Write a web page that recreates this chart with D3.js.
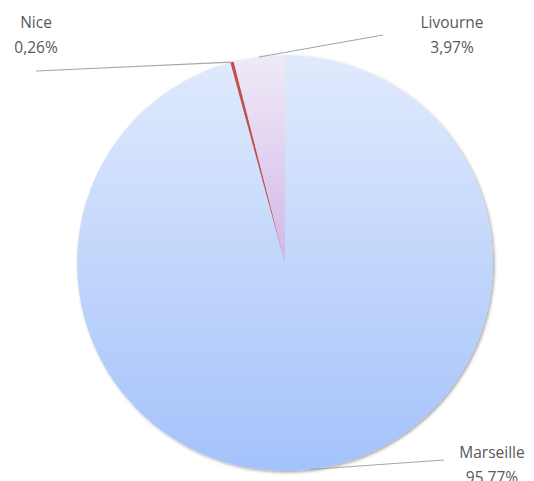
<!DOCTYPE html>
<html>
<head>
<meta charset="utf-8">
<script src="https://cdn.jsdelivr.net/npm/d3@7"></script>
<style>
  body { margin: 0; background: #fff; }
  text { font-family: "Open Sans", "Liberation Sans", sans-serif; font-size: 15.5px; fill: #595959; }
</style>
</head>
<body>
<svg id="chart" width="534" height="481"></svg>
<script>
// data
const cities = ["Marseille", "Nice", "Livourne"];
const shares = [95.77, 0.26, 3.97];
const labels = ["95,77%", "0,26%", "3,97%"];

const width = 534, height = 481;
const cx = 285, cy = 263, radius = 208;

const svg = d3.select("#chart");
const defs = svg.append("defs");

// gradient per slice, light on top darker below
const grads = [
  ["#e0eafc", "#a4c2fb"],
  ["#c0504d", "#c0504d"],
  ["#f0eaf8", "#d2b7e5"]
];
grads.forEach(function (g, i) {
  let lg = defs.append("linearGradient")
    .attr("id", "g" + i)
    .attr("x1", 0).attr("y1", 0).attr("x2", 0).attr("y2", 1);
  lg.append("stop").attr("offset", "0%").attr("stop-color", g[0]);
  lg.append("stop").attr("offset", "100%").attr("stop-color", g[1]);
});

let shadow = defs.append("filter").attr("id", "sh")
  .attr("x", "-10%").attr("y", "-10%").attr("width", "120%").attr("height", "120%");
shadow.append("feDropShadow")
  .attr("dx", 1.5).attr("dy", 1.5).attr("stdDeviation", 1.5)
  .attr("flood-color", "#000").attr("flood-opacity", 0.35);

const data = cities.map(function (c, i) { return { city: c, value: shares[i], label: labels[i], idx: i }; });

const pie = d3.pie().sort(null).value(function (d) { return d.value; });
const arc = d3.arc().innerRadius(0).outerRadius(radius);

const g = svg.append("g").attr("transform", "translate(" + cx + "," + cy + ")");

g.append("g").attr("filter", "url(#sh)")
  .selectAll("path")
  .data(pie(data))
  .join("path")
  .attr("d", arc)
  .attr("fill", function (d) { return "url(#g" + d.data.idx + ")"; });

// leader lines and labels (positions of labels)
const labelPos = {
  "Marseille": { x: 492, y: 452, end: [444, 460] },
  "Nice": { x: 36, y: 22, end: [36, 71] },
  "Livourne": { x: 452, y: 22, end: [383, 35] }
};

const arcs = pie(data);
arcs.forEach(function (d) {
  let p = labelPos[d.data.city];
  let a = (d.startAngle + d.endAngle) / 2;
  if (d.data.city === "Nice") a = d.startAngle + 0.004;
  if (d.data.city === "Marseille") a = Math.PI - 0.12;
  let sx = cx + Math.sin(a) * radius;
  let sy = cy - Math.cos(a) * radius;
  if (d.data.city === "Livourne") { sx = 259; sy = 57; }
  svg.append("path")
    .attr("d", "M" + sx + "," + sy + "L" + p.end[0] + "," + p.end[1])
    .attr("stroke", "#a6a6a6").attr("stroke-width", 1.2).attr("fill", "none");
  let t = svg.append("text").attr("text-anchor", "middle");
  t.append("tspan").attr("x", p.x).attr("y", p.y + 6).text(d.data.city);
  t.append("tspan").attr("x", p.x).attr("y", p.y + 31).text(d.data.label);
});
</script>
</body>
</html>
